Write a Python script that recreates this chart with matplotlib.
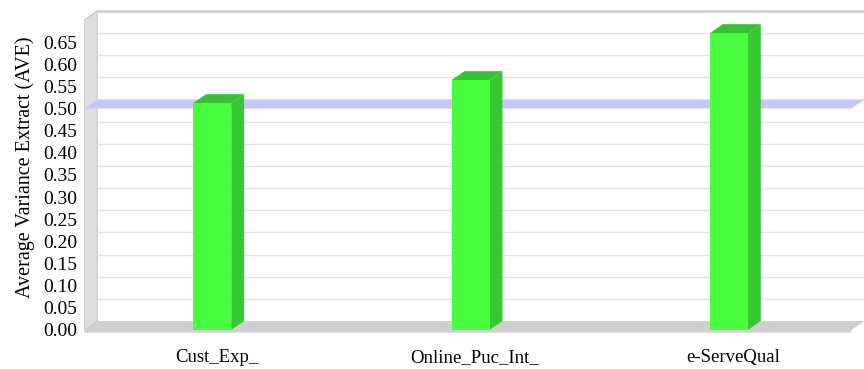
import numpy as np
import matplotlib
matplotlib.use("Agg")
import matplotlib.pyplot as plt
from matplotlib.patches import Polygon, Rectangle

plt.rcParams["font.family"] = ["Liberation Serif", "DejaVu Serif"]

categories = ["Cust_Exp_", "Online_Puc_Int_", "e-ServeQual"]
ave_values = [0.512, 0.564, 0.670]
threshold = 0.50
y_ticks = [0.00, 0.05, 0.10, 0.15, 0.20, 0.25, 0.30, 0.35, 0.40, 0.45, 0.50, 0.55, 0.60, 0.65]
y_label = "Average Variance Extract (AVE)"

# pseudo-3D depth offsets (category units / value units)
DX, DY = 0.050, 0.0203
BAR_W = 0.147
X_LEFT, X_RIGHT = -0.495, 2.474
Y_TOP = 0.70

C_FRONT = "#48fd3e"
C_SIDE = "#39c835"
C_TOP = "#37c233"
C_PLANE = "#c6c6ff"
C_WALL = "#dedede"
C_FLOOR = "#cfcfcf"
C_GRID = "#e4e4e4"

fig = plt.figure(figsize=(8.64, 3.69), dpi=100)
ax = fig.add_axes([84 / 864, (369 - 335) / 369, 780 / 864, 335 / 369])
ax.set_xlim(X_LEFT - 0.0015, 2.521 + 0.002)
ax.set_ylim(-0.0113, 335 / 443 - 0.0113)

# left wall
ax.add_patch(Polygon([(X_LEFT, 0), (X_LEFT + DX, DY), (X_LEFT + DX, Y_TOP + DY), (X_LEFT, Y_TOP)],
                     closed=True, facecolor=C_WALL, edgecolor="#c8c8c8", lw=0.8, zorder=1))
# floor
ax.add_patch(Polygon([(X_LEFT, -0.006), (X_LEFT, 0), (X_LEFT + DX, DY), (X_RIGHT + DX, DY),
                      (X_RIGHT, 0), (X_RIGHT, -0.006)],
                     closed=True, facecolor=C_FLOOR, edgecolor="none", zorder=1))
# back wall grid lines
for t in y_ticks[1:]:
    ax.plot([X_LEFT + DX, X_RIGHT + DX], [t + DY, t + DY], color=C_GRID, lw=1.0, zorder=0.5)
ax.plot([X_LEFT + DX, X_RIGHT + DX], [Y_TOP + DY, Y_TOP + DY], color="#cccccc", lw=1.8, zorder=0.6)

# threshold plane
ax.add_patch(Polygon([(X_LEFT, threshold), (X_LEFT + DX, threshold + DY),
                      (X_RIGHT + DX, threshold + DY), (X_RIGHT, threshold)],
                     closed=True, facecolor=C_PLANE, edgecolor="none", zorder=2))

# bars
x = np.arange(len(categories))
for xi, v in zip(x, ave_values):
    l, r = xi - BAR_W / 2, xi + BAR_W / 2
    ax.add_patch(Polygon([(r, 0), (r + DX, DY), (r + DX, v + DY), (r, v)],
                         closed=True, facecolor=C_SIDE, edgecolor="none", zorder=3))
    ax.add_patch(Polygon([(l, v), (l + DX, v + DY), (r + DX, v + DY), (r, v)],
                         closed=True, facecolor=C_TOP, edgecolor="none", zorder=3))
    ax.add_patch(Rectangle((l, 0), BAR_W, v, facecolor=C_FRONT, edgecolor="none", zorder=4))

for s in ax.spines.values():
    s.set_visible(False)
ax.set_yticks(y_ticks)
ax.set_yticklabels([f"{t:.2f}" for t in y_ticks], fontsize=14)
ax.set_xticks(x + DX / 3)
ax.set_xticklabels(categories, fontsize=13.5)
ax.tick_params(axis="y", length=0, pad=5)
ax.tick_params(axis="x", length=0, pad=10)
ax.set_ylabel(y_label, fontsize=14.5, labelpad=6)
ax.set_facecolor("white")

fig.savefig("out.png", dpi=100)
